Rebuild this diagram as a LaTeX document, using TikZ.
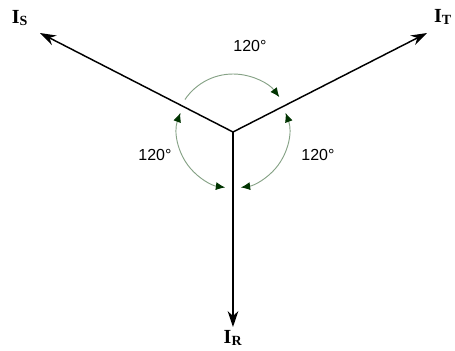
\documentclass[tikz,border=0pt]{standalone}
\usepackage{fontspec}
\setmainfont{Liberation Serif}
\newfontfamily\arialfont{Liberation Sans}
\usetikzlibrary{arrows.meta}

\tikzstyle{phasor}=[line width=1.1pt,black,-{Stealth[length=12pt,width=8pt]}]
\tikzstyle{angarc}=[line width=0.7pt,gray!70!green!60!black!60,{Latex[length=7pt,width=6pt,black!80!green]}-{Latex[length=7pt,width=6pt,black!80!green]}]
\tikzstyle{angarcend}=[line width=0.7pt,gray!70!green!60!black!60,-{Latex[length=7pt,width=6pt,black!80!green]}]
\tikzstyle{current}=[inner sep=0pt,font=\fontsize{15}{17}\selectfont\bfseries]
\tikzstyle{angle}=[inner sep=0pt,font=\arialfont\fontsize{12}{14}\selectfont]

\begin{document}
\begin{tikzpicture}[x=0.75pt,y=0.75pt]
    \useasboundingbox (-233,-219) rectangle (222,132);

    \coordinate (o) at (0,0);
    \coordinate (s) at (-193,99);
    \coordinate (t) at (194,99);
    \coordinate (r) at (0,-195);

    \node (is)[current] at (-213,114) {I\textsubscript{S}};
    \node (it)[current] at (210,115) {I\textsubscript{T}};
    \node (ir)[current] at (0,-206) {I\textsubscript{R}};

    \draw[phasor] (o) -- (s);
    \draw[phasor] (o) -- (t);
    \draw[phasor] (o) -- (r);

    \draw[angarcend] (o) ++(146:58) arc (146:37:58);
    \draw[angarc] (o) ++(160:56) arc (160:262:56);
    \draw[angarc] (o) ++(20:56) arc (20:-82:56);

    \node (a1)[angle] at (17,86) {120°};
    \node (a2)[angle] at (-78,-23) {120°};
    \node (a3)[angle] at (85,-23) {120°};
\end{tikzpicture}
\end{document}
